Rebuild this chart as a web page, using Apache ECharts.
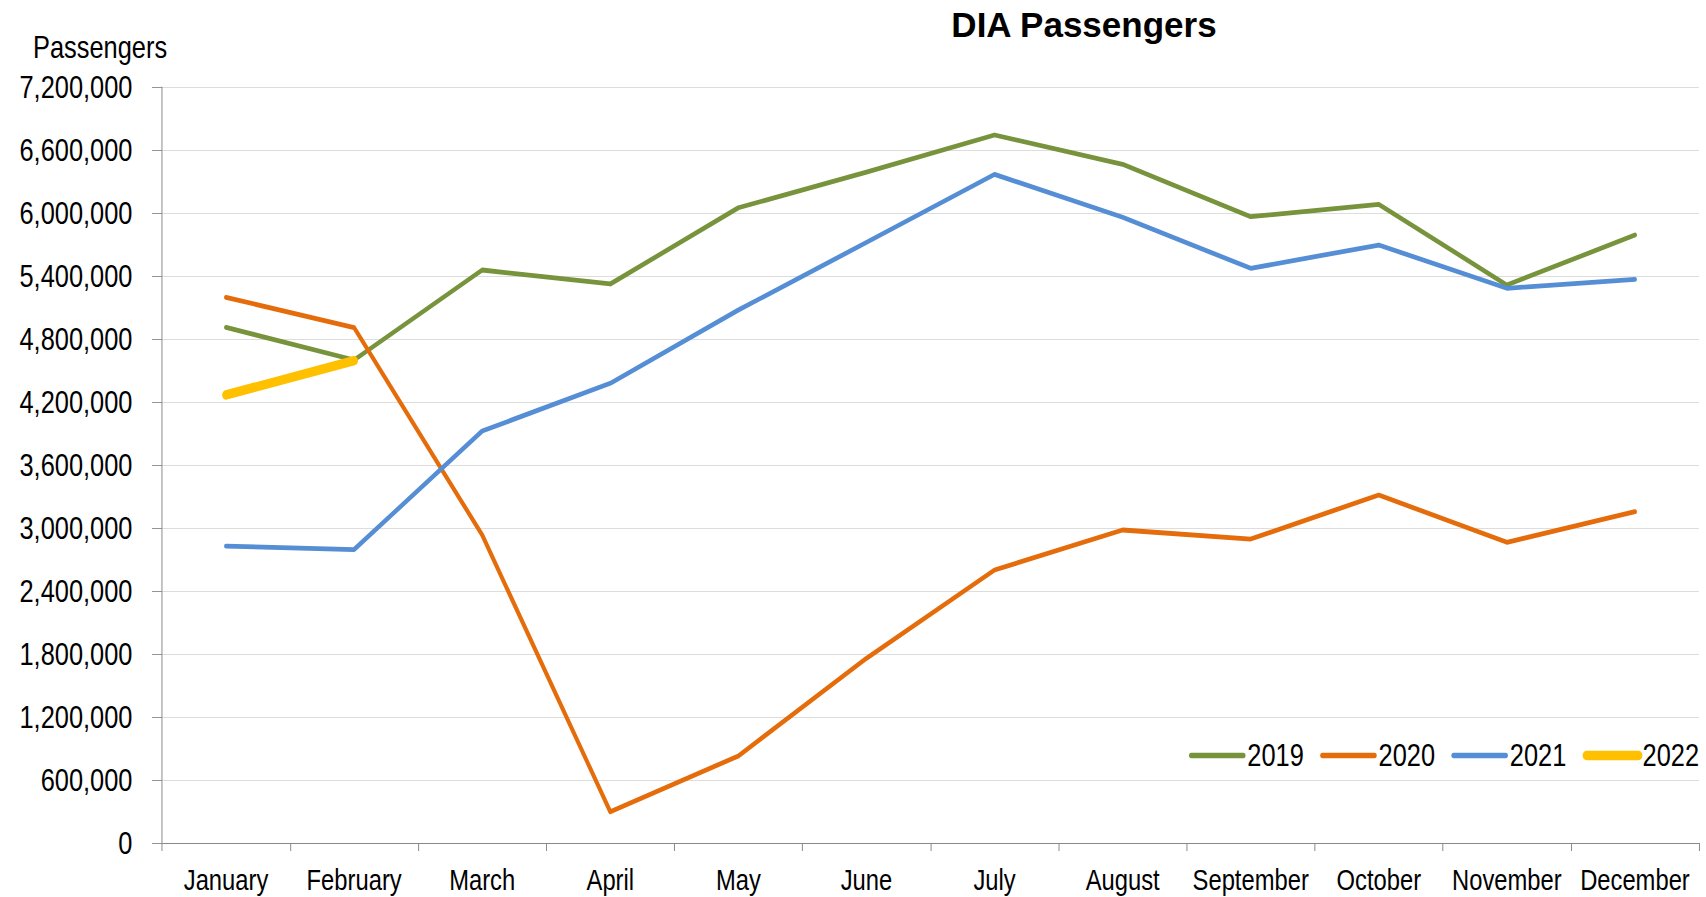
<!DOCTYPE html>
<html>
<head>
<meta charset="utf-8">
<script src="https://cdn.jsdelivr.net/npm/echarts@6/dist/echarts.min.js"></script>
<style>
html,body{margin:0;padding:0;background:#fff;overflow:hidden;}
#chart{height:897px;transform-origin:0 0;}
</style>
</head>
<body>
<div id="chart"></div>
<script>
const months = ["January","February","March","April","May","June","July","August","September","October","November","December"];
const seriesNames = ["2019","2020","2021","2022"];
const v2019 = [4910000,4600000,5457000,5324000,6050000,6390000,6743000,6464000,5965000,6083000,5314000,5790000];
const v2020 = [5197000,4908000,2933000,298000,829000,1759000,2600000,2981000,2895000,3314000,2864000,3155000];
const v2021 = [2827000,2795000,3924000,4378000,5076000,5720000,6368000,5960000,5473000,5695000,5283000,5368000];
const v2022 = [4267000,4593000];
const yTicks = {min:0, max:7200000, step:600000};
const colors = ["#77933C","#E46C0A","#558ED5","#FFC000"];
const widths = [4.8,4.8,4.8,9.5];
const legendWidths = [5.5,5.5,5.5,9.5];

// narrow-font emulation: draw in a wider space, then compress horizontally
const K = 0.82;
const W = 1706 / K;
const el = document.getElementById('chart');
el.style.width = W + 'px';
el.style.transform = 'scaleX(' + K + ')';

const FONT = "'Liberation Sans','Arial',sans-serif";
const chart = echarts.init(el, null, {renderer:'svg', width:W, height:897});
const allValues = [v2019, v2020, v2021, v2022];

chart.setOption({
  animation:false,
  backgroundColor:'#ffffff',
  graphic:[
    {type:'text', x:1084/K, y:25, scaleX:1/K, z:10,
     style:{text:'DIA Passengers', font:"bold 35px " + FONT, fill:'#000', align:'center', verticalAlign:'middle'}},
    {type:'text', x:33/K, y:47, z:10,
     style:{text:'Passengers', font:"31px " + FONT, fill:'#000', align:'left', verticalAlign:'middle'}}
  ],
  legend:{
    left:1189/K, top:740, width:800, padding:0,
    itemWidth:52/K, itemHeight:16, itemGap:16.3/K,
    itemStyle:{opacity:0},
    textStyle:{fontFamily:FONT,fontSize:31,color:'#000'},
    data:seriesNames.map((n,i)=>({name:n, itemStyle:{opacity:0}, lineStyle:{width:legendWidths[i], cap:'round'}}))
  },
  grid:{left:162/K,right:7/K,top:87,bottom:54,containLabel:false,outerBoundsMode:'none'},
  xAxis:{
    type:'category', data:months, boundaryGap:true,
    axisLine:{lineStyle:{color:'#898989',width:1.2}},
    axisTick:{show:true,length:8,lineStyle:{color:'#898989',width:1.2}},
    axisLabel:{fontFamily:FONT,fontSize:29,color:'#000',margin:23,interval:0},
    splitLine:{show:false}
  },
  yAxis:{
    type:'value', min:yTicks.min, max:yTicks.max, interval:yTicks.step,
    axisLine:{show:true,lineStyle:{color:'#898989',width:1.2}},
    axisTick:{show:true,length:10/K,lineStyle:{color:'#898989'}},
    axisLabel:{fontFamily:FONT,fontSize:31,color:'#000',margin:36,
      formatter:v=>v.toLocaleString('en-US')},
    splitLine:{lineStyle:{color:'#d9d9d9',width:1}}
  },
  series: seriesNames.map((n,i)=>({
    name:n, type:'line', data:allValues[i], symbol:'none', smooth:false,
    lineStyle:{color:colors[i],width:widths[i],cap:'round',join:'round'},
    itemStyle:{color:colors[i]},
    z:2+i
  }))
});
</script>
</body>
</html>
